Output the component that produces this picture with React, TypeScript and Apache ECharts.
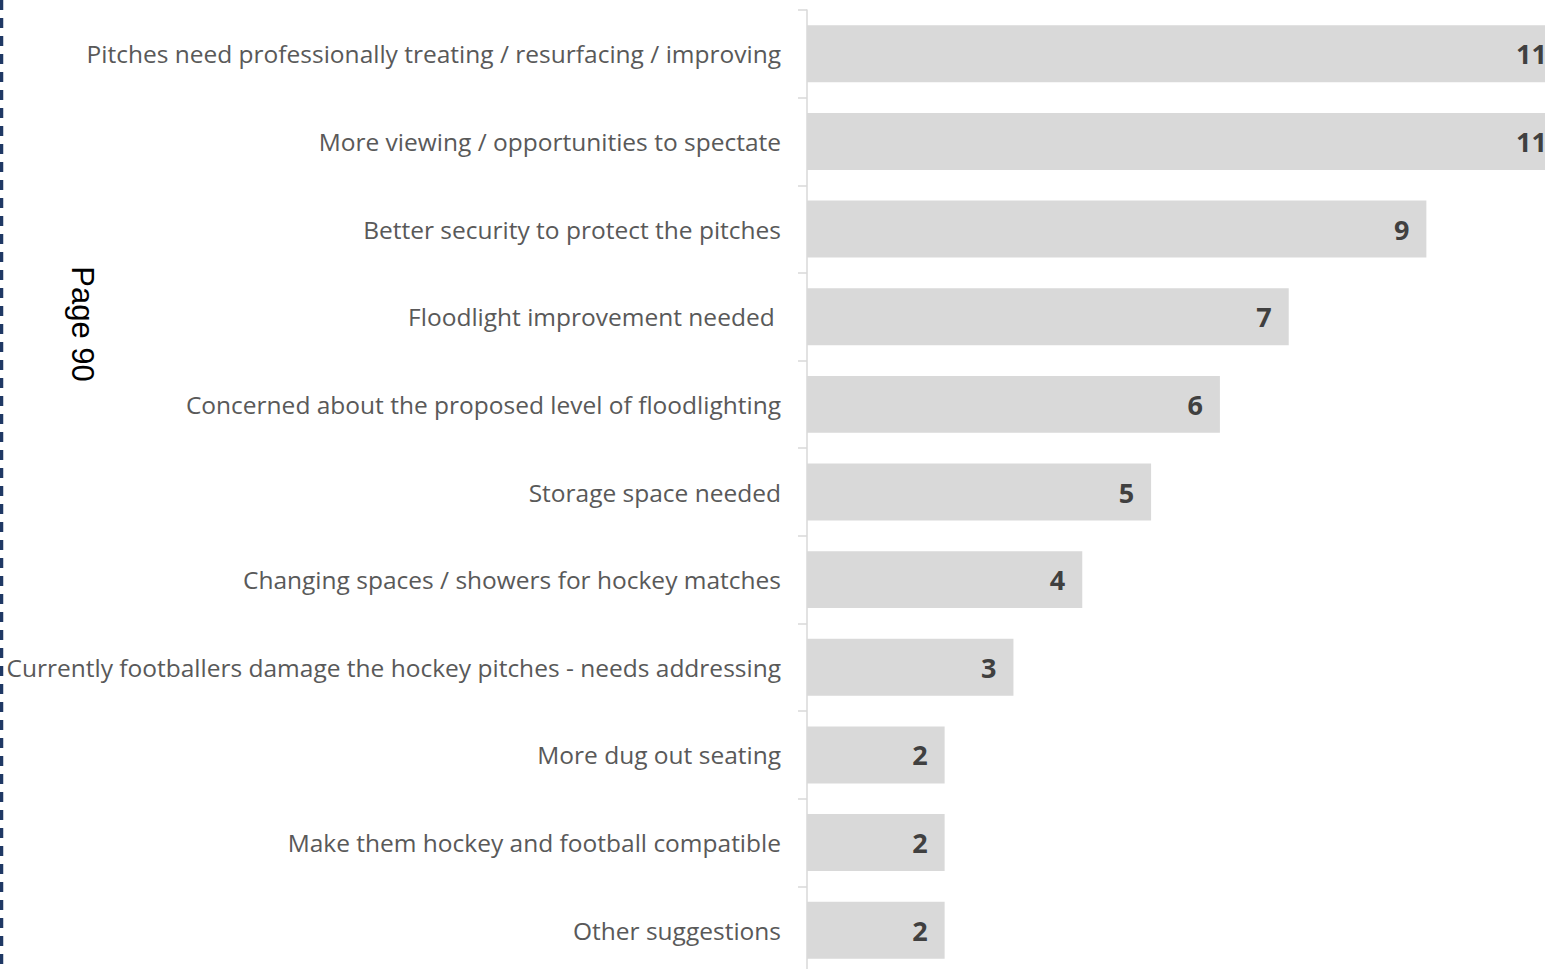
import React, { useEffect, useRef } from "react";
import * as echarts from "echarts";

const categories = [
  "Pitches need professionally treating / resurfacing / improving",
  "More viewing / opportunities to spectate",
  "Better security to protect the pitches",
  "Floodlight improvement needed ",
  "Concerned about the proposed level of floodlighting",
  "Storage space needed",
  "Changing spaces / showers for hockey matches",
  "Currently footballers damage the hockey pitches - needs addressing",
  "More dug out seating",
  "Make them hockey and football compatible",
  "Other suggestions",
];
const values = [11, 11, 9, 7, 6, 5, 4, 3, 2, 2, 2];
const pageLabel = "Page 90";

export default function App() {
  const ref = useRef<HTMLDivElement>(null);
  useEffect(() => {
    if (!ref.current) return;
    const chart = echarts.init(ref.current, null, { renderer: "svg" });
    chart.setOption({
      animation: false,
      backgroundColor: "#ffffff",
      grid: { left: 807, top: 10, width: 757, height: 964, containLabel: false },
      xAxis: {
        type: "value",
        min: 0,
        max: 11,
        show: false,
      },
      yAxis: {
        type: "category",
        inverse: true,
        data: categories,
        axisLine: { show: true, lineStyle: { color: "#d9d9d9", width: 1.5 } },
        axisTick: { show: true, length: 9, lineStyle: { color: "#d9d9d9", width: 1.5 } },
        axisLabel: {
          color: "#595959",
          fontSize: 24.5,
          fontFamily: "Open Sans",
          margin: 26,
          verticalAlign: "middle",
          lineHeight: 28,
          padding: [0, 0, 4, 0],
        },
        splitLine: { show: false },
      },
      series: [
        {
          type: "bar",
          data: values,
          barCategoryGap: "35%",
          itemStyle: { color: "#d9d9d9" },
          clip: false,
          label: {
            show: true,
            position: "insideRight",
            distance: 17,
            color: "#404040",
            fontSize: 27,
            fontWeight: "bold",
            fontFamily: "Open Sans",
          },
        },
      ],
      graphic: [
        {
          type: "line",
          shape: { x1: 1.5, y1: 0, x2: 1.5, y2: 1000 },
          style: { stroke: "#1f3864", lineWidth: 3.5, lineDash: [10, 8] },
        },
        {
          type: "text",
          x: 82,
          y: 324,
          rotation: -Math.PI / 2,
          style: {
            text: pageLabel,
            fontSize: 31,
            fontFamily: "Liberation Sans",
            fill: "#000000",
            textAlign: "center",
            textVerticalAlign: "middle",
          },
        },
      ],
    });
    return () => chart.dispose();
  }, []);
  return (
    <div
      style={{
        position: "fixed",
        left: 0,
        top: 0,
        width: 1545,
        height: 969,
        overflow: "hidden",
        background: "#fff",
      }}
    >
      <div ref={ref} style={{ width: 1600, height: 1000 }} />
    </div>
  );
}
